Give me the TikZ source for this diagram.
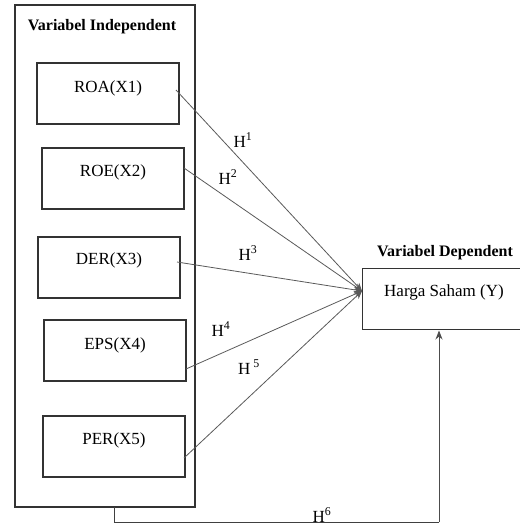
\documentclass[tikz,border=0pt]{standalone}
\usepackage{fontspec}
\setmainfont{Liberation Serif}
\usetikzlibrary{arrows.meta}
\tikzset{
  box/.style={draw=black!80, line width=1.3pt, minimum width=142pt, minimum height=61pt, inner sep=0pt},
  lbl/.style={font=\fontsize{17}{20}\selectfont, inner sep=0pt},
  ttl/.style={font=\fontsize{16}{19}\selectfont\bfseries, inner sep=0pt},
  conn/.style={draw=black!65, line width=0.8pt, -{Stealth[length=8pt,width=7pt]}},
  plain/.style={draw=black!75, line width=0.9pt}
}
\begin{document}
\begin{tikzpicture}[x=1pt,y=-1pt]
\useasboundingbox (0,0) rectangle (519,526);
% outer independent box
\node[draw=black!80, line width=1.3pt, minimum width=180pt, minimum height=502pt, inner sep=0pt] (indep) at (105,256) {};
\node[ttl] (indept) at (102,27) {Variabel Independent};
% variable boxes
\node[box] (roa) at (108,93.5) {};
\node[box] (roe) at (113,178.5) {};
\node[box] (der) at (109,267.5) {};
\node[box] (eps) at (115,350.5) {};
\node[box] (per) at (114,446.5) {};
\node[lbl] (roat) at (108,88) {ROA(X1)};
\node[lbl] (roet) at (113,172) {ROE(X2)};
\node[lbl] (dert) at (109,260) {DER(X3)};
\node[lbl] (epst) at (115,345) {EPS(X4)};
\node[lbl] (pert) at (114,440) {PER(X5)};
% dependent
\node[minimum width=170pt, minimum height=60pt, inner sep=0pt] (dep) at (448,299) {};
\draw[draw=black!80, line width=1.3pt] (dep.north east) -- (dep.north west) -- (dep.south west) -- (dep.south east);
\node[ttl] (dept) at (445,253) {Variabel Dependent};
\node[lbl] (dep t) at (444,292) {Harga Saham (Y)};
\coordinate (hub) at (362,291);
% start points
\coordinate (s1) at (176,90);
\coordinate (s2) at (184,168);
\coordinate (s3) at (177,262);
\coordinate (s4) at (186,369);
\coordinate (s5) at (184,458);
\draw[conn] (s1) -- (hub);
\draw[conn] (s2) -- (hub);
\draw[conn] (s3) -- (hub);
\draw[conn] (s4) -- (hub);
\draw[conn] (s5) -- (hub);
% hypothesis labels
\node[lbl] (h1) at (243,140) {H\textsuperscript{1}};
\node[lbl] (h2) at (228,177) {H\textsuperscript{2}};
\node[lbl] (h3) at (248,253) {H\textsuperscript{3}};
\node[lbl] (h4) at (221,329) {H\textsuperscript{4}};
\node[lbl] (h5) at (249,367) {H\,\textsuperscript{5}};
% H6 path
\coordinate (b1) at (114,507);
\coordinate (b2) at (114,522);
\coordinate (b3) at (439,522);
\draw[plain] (b1) -- (b2) -- (b3);
\draw[draw=black!70, line width=0.8pt, -{Stealth[length=9pt,width=7pt]}] (b3) -- (439,330.5);
\node[lbl] (h6) at (322,515) {H\textsuperscript{6}};
\end{tikzpicture}
\end{document}
